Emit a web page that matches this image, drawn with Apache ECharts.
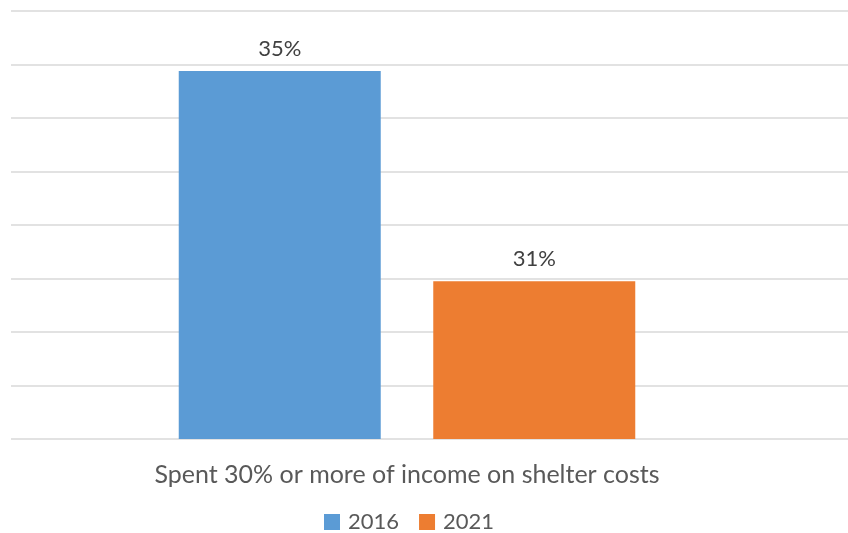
<!DOCTYPE html>
<html>
<head>
<meta charset="utf-8">
<script src="https://cdn.jsdelivr.net/npm/echarts@6/dist/echarts.min.js"></script>
<style>
  html, body { margin: 0; padding: 0; background: #ffffff; }
  #chart { width: 848px; height: 533px; }
</style>
</head>
<body>
<div id="chart"></div>
<script>
// Share of households spending 30%+ of income on shelter
const categories = ['Spent 30% or more of income on shelter costs'];
const seriesNames = ['2016', '2021'];
const values2016 = [34.88];
const values2021 = [30.95];
const seriesColors = ['#5B9BD5', '#ED7D31'];

const FONT = 'Lato, "Open Sans", sans-serif';
const yMin = 28, yMax = 36, yStep = 1;

const chart = echarts.init(document.getElementById('chart'), null, { renderer: 'canvas' });

const labelCfg = {
  show: true,
  position: 'top',
  distance: 11,
  color: '#404040',
  fontFamily: FONT,
  fontSize: 22,
  formatter: p => Math.round(p.value) + '%'
};

chart.setOption({
  animation: false,
  backgroundColor: '#ffffff',
  grid: [
    // full-width grid carrying the horizontal gridlines
    { left: 11, right: 0, top: 11, bottom: 94, containLabel: false },
    // grid holding the bars
    { left: 11, right: 45, top: 11, bottom: 94, containLabel: false }
  ],
  xAxis: [
    { type: 'category', gridIndex: 0, data: [''], show: false },
    {
      type: 'category', gridIndex: 1, data: categories,
      axisLine: { show: false }, axisTick: { show: false },
      axisLabel: { color: '#595959', fontFamily: FONT, fontSize: 25, margin: 23 }
    }
  ],
  yAxis: [
    {
      type: 'value', gridIndex: 0, min: yMin, max: yMax, interval: yStep,
      axisLine: { show: false }, axisTick: { show: false }, axisLabel: { show: false },
      splitLine: { show: true, lineStyle: { color: '#D9D9D9', width: 1.5 } }
    },
    {
      type: 'value', gridIndex: 1, min: yMin, max: yMax, interval: yStep,
      show: false, splitLine: { show: false }
    }
  ],
  legend: {
    data: seriesNames,
    left: 324,
    top: 511,
    padding: 0,
    itemWidth: 16,
    itemHeight: 16,
    itemGap: 20,
    icon: 'rect',
    textStyle: { color: '#595959', fontFamily: FONT, fontSize: 22, padding: [0, 0, 0, 3] }
  },
  series: [
    {
      name: seriesNames[0], type: 'bar', xAxisIndex: 1, yAxisIndex: 1,
      data: values2016, barWidth: 202, barGap: '26%',
      itemStyle: { color: seriesColors[0] }, label: labelCfg
    },
    {
      name: seriesNames[1], type: 'bar', xAxisIndex: 1, yAxisIndex: 1,
      data: values2021, barWidth: 202, barGap: '26%',
      itemStyle: { color: seriesColors[1] }, label: labelCfg
    }
  ]
});
</script>
</body>
</html>
